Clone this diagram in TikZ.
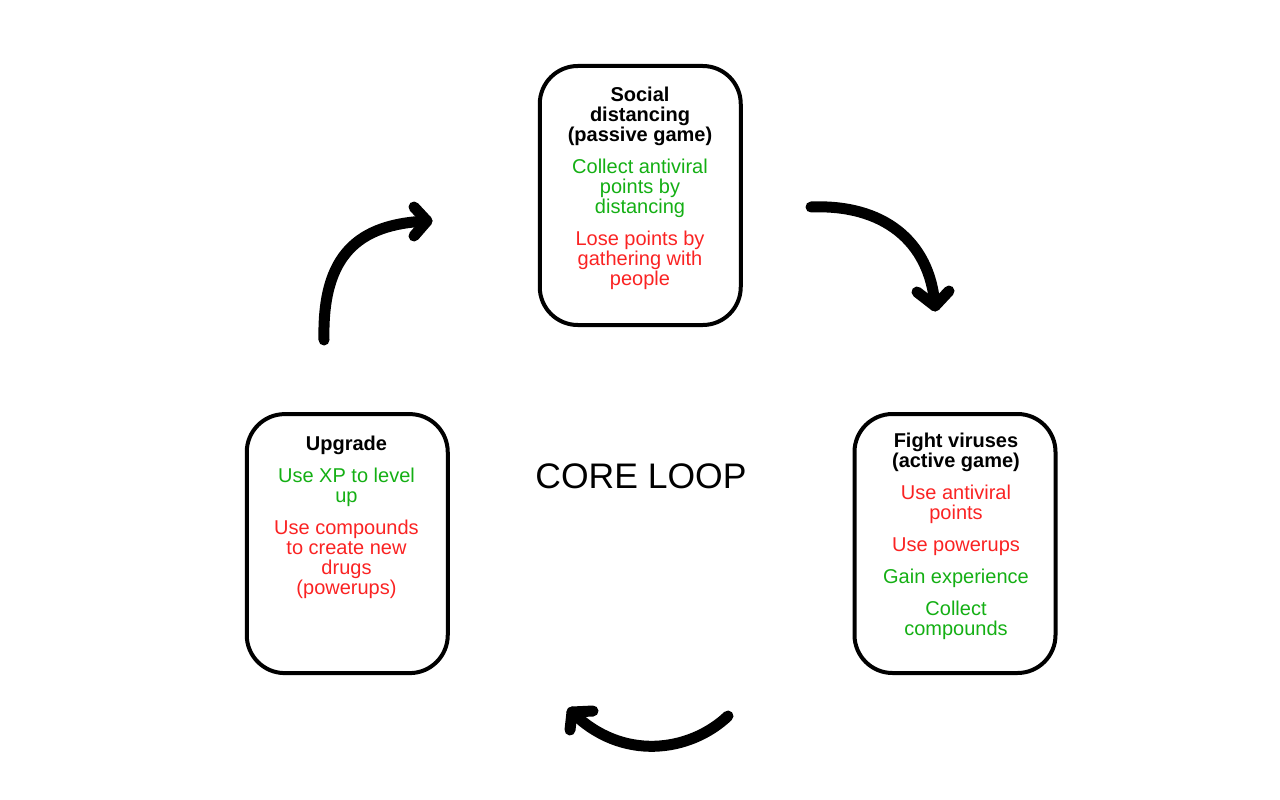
\documentclass[tikz,border=0pt]{standalone}
\usepackage{fontspec}
\setmainfont{Liberation Sans}
\definecolor{tgreen}{RGB}{20,175,20}
\definecolor{tred}{RGB}{250,35,35}
\begin{document}
\begin{tikzpicture}[x=1pt,y=-1pt,
  box/.style={draw=black, line width=4pt, rounded corners=38pt, minimum width=201pt, minimum height=259pt, inner sep=0pt},
  txt/.style={align=center, inner sep=0pt, anchor=north, font=\fontsize{20}{20}\selectfont},
  arr/.style={draw=black, line width=11pt, line cap=round, line join=round}]
\useasboundingbox (0,0) rectangle (1280,800);

% boxes
\node[box] (social) at (640.25,195.5) {};
\node[box] (upgrade) at (347.25,543.6) {};
\node[box] (fight) at (955,543.5) {};

% box texts
\node[txt] (socialtxt) at (640,86.7) {%
\textbf{Social}\\\textbf{distancing}\\\textbf{(passive game)}\\[12pt]
\textcolor{tgreen}{Collect antiviral}\\\textcolor{tgreen}{points by}\\\textcolor{tgreen}{distancing}\\[12pt]
\textcolor{tred}{Lose points by}\\\textcolor{tred}{gathering with}\\\textcolor{tred}{people}};

\node[txt] (fighttxt) at (956,433) {%
\textbf{Fight viruses}\\\textbf{(active game)}\\[12pt]
\textcolor{tred}{Use antiviral}\\\textcolor{tred}{points}\\[12pt]
\textcolor{tred}{Use powerups}\\[12pt]
\textcolor{tgreen}{Gain experience}\\[12pt]
\textcolor{tgreen}{Collect}\\\textcolor{tgreen}{compounds}};

\node[txt] (upgradetxt) at (346.5,435.4) {%
\textbf{Upgrade}\\[12pt]
\textcolor{tgreen}{Use XP to level}\\\textcolor{tgreen}{up}\\[12pt]
\textcolor{tred}{Use compounds}\\\textcolor{tred}{to create new}\\\textcolor{tred}{drugs}\\\textcolor{tred}{(powerups)}};

% center title
\node[inner sep=0pt, anchor=base, font=\fontsize{35.5}{40}\selectfont] (core) at (641,488.3) {CORE LOOP};

% arrow 1: upgrade -> social
\coordinate (a1s) at (324,340);
\coordinate (a1t) at (427,221);
\coordinate (a1u) at (414,207);
\coordinate (a1d) at (414,236);
\draw[arr] (a1s) .. controls (322,255) and (358,224) .. (a1t);
\draw[arr] (a1u) -- (a1t) -- (a1d);

% arrow 2: social -> fight
\coordinate (a2s) at (811,207);
\coordinate (a2t) at (935,306);
\coordinate (a2l) at (917,292);
\coordinate (a2r) at (949,291);
\draw[arr] (a2s) .. controls (882,204) and (930,240) .. (a2t);
\draw[arr] (a2l) -- (a2t) -- (a2r);

% arrow 3: fight -> upgrade
\coordinate (a3s) at (728,716);
\coordinate (a3t) at (572,712);
\coordinate (a3r) at (593,711);
\coordinate (a3d) at (570,730);
\draw[arr] (a3s) .. controls (690,752) and (622,762) .. (a3t);
\draw[arr] (a3r) -- (a3t) -- (a3d);
\end{tikzpicture}
\end{document}
